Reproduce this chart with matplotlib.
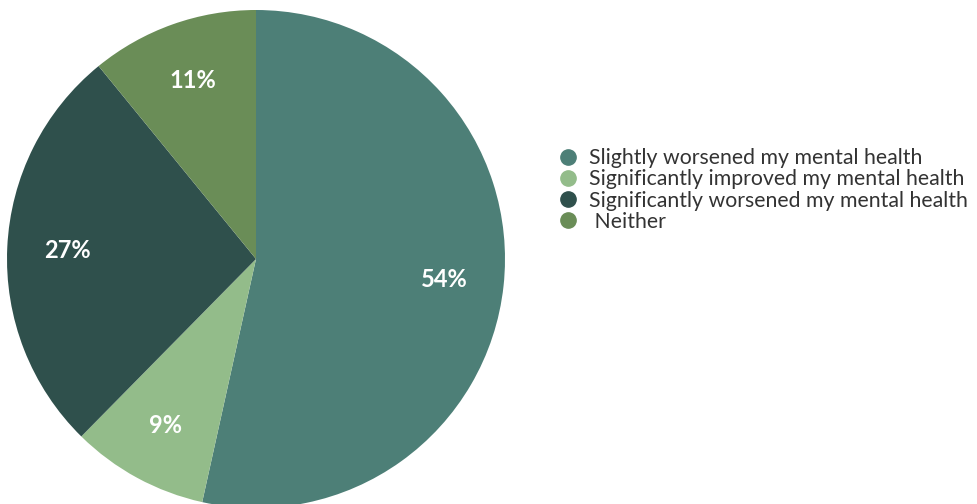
import matplotlib
matplotlib.use("Agg")
import matplotlib.pyplot as plt
from matplotlib.lines import Line2D

# Survey answers, clockwise from 12 o'clock
labels = [
    "Slightly worsened my mental health",
    "Significantly improved my mental health",
    "Significantly worsened my mental health",
    " Neither",
]
shares = [54, 9, 27, 11]
colors = ["#4d7f77", "#93bc8a", "#2f504c", "#6a8d57"]

fig = plt.figure(figsize=(9.77, 5.04), dpi=100)
ax = fig.add_axes([7 / 977, (245 - 249) / 504, 498 / 977, 498 / 504])

wedges, _, pct = ax.pie(
    shares,
    colors=colors,
    startangle=90,
    counterclock=False,
    autopct=lambda p: f"{round(p * sum(shares) / 100):.0f}%",
    pctdistance=0.76,
    textprops=dict(color="white", fontsize=17, fontweight="bold", family="Lato"),
    wedgeprops=dict(linewidth=0),
)
ax.set_xlim(-1, 1)
ax.set_ylim(-1, 1)
ax.set_aspect("equal")
ax.axis("off")

handles = [
    Line2D([], [], marker="o", linestyle="none", markersize=11,
           markerfacecolor=c, markeredgecolor=c)
    for c in colors
]
fig.legend(
    handles, labels,
    loc="upper left", bbox_to_anchor=(555 / 977, 1 - 148 / 504),
    frameon=False, handletextpad=0.4, handlelength=1.2,
    labelspacing=0.06, borderaxespad=0, borderpad=0,
    prop=dict(family="Lato", size=15.3),
    labelcolor="#333333",
)

fig.savefig("out.png", dpi=100)
